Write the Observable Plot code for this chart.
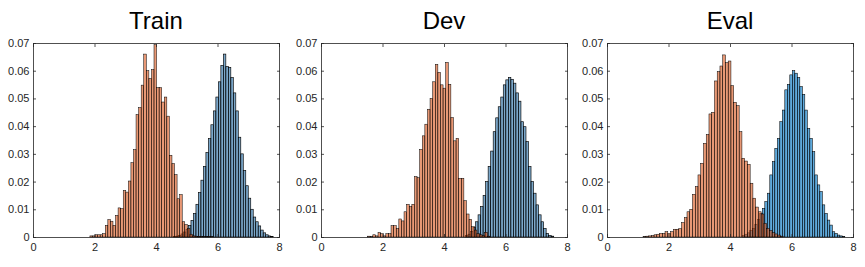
<!DOCTYPE html>
<html>
<head>
<meta charset="utf-8">
<script src="https://cdn.jsdelivr.net/npm/d3@7"></script>
<script src="https://cdn.jsdelivr.net/npm/@observablehq/plot@0.6"></script>
<style>
  html, body { margin: 0; padding: 0; background: #fff; }
  #wrap { position: relative; width: 865px; height: 267px; overflow: hidden; }
  .panel { position: absolute; top: 0; width: 291px; height: 267px; }
  .title { position: absolute; top: 6px; left: 33px; width: 246px; text-align: center;
           font-family: "Liberation Sans", Arial, sans-serif; font-size: 24px; color: #000; line-height: 30px; }
  .panel svg { position: absolute; top: 0; left: 0; }
</style>
</head>
<body>
<div id="wrap"></div>
<script>
const titles = ["Train", "Dev", "Eval"];
const xTicks = [0, 2, 4, 6, 8];
const yTicks = [0, 0.01, 0.02, 0.03, 0.04, 0.05, 0.06, 0.07];

// bin starts and widths (orange = class A, blue = class B)
const orangeStart = [1.85, 1.516, 1.173];
const orangeWidth = [0.0834, 0.0846, 0.0893];
const blueStart = [4.57, 4.698, 4.40];
const blueWidth = [0.081, 0.082, 0.0813];

const trainOrange = [0.0004,0.0004,0.0008,0.0008,0.0008,0.0012,0.0042,0.0063,0.0057,0.0042,0.0078,0.0105,0.0102,0.0168,0.0162,0.0202,0.0268,0.0315,0.0442,0.0467,0.0548,0.0660,0.0600,0.0572,0.0604,0.0694,0.0539,0.0539,0.0487,0.0505,0.0436,0.0295,0.0265,0.0225,0.0138,0.0153,0.0055,0.0045,0.0030,0.0010,0.0004,0.0003,0.0002,0.0002,0.0001,0.0001,0.0002,0.0001];
const trainBlue = [0.0002,0.0003,0.0006,0.0011,0.0018,0.0028,0.0042,0.0060,0.0085,0.0118,0.0160,0.0205,0.0255,0.0305,0.0355,0.0405,0.0455,0.0505,0.0560,0.0619,0.0660,0.0615,0.0612,0.0575,0.0520,0.0455,0.0360,0.0300,0.0240,0.0185,0.0140,0.0100,0.0072,0.0055,0.0040,0.0025,0.0015,0.0008,0.0004,0.0002];

const devOrange = [0.0003,0.0001,0.0008,0.0004,0.0016,0.0012,0.0004,0.0012,0.0012,0.0041,0.0041,0.0031,0.0065,0.0058,0.0091,0.0118,0.0110,0.0118,0.0218,0.0214,0.0316,0.0365,0.0407,0.0461,0.0500,0.0560,0.0623,0.0594,0.0549,0.0537,0.0630,0.0551,0.0431,0.0347,0.0356,0.0212,0.0212,0.0131,0.0083,0.0064,0.0037,0.0025,0.0012,0.0008,0.0005,0.0017,0.0003];
const devBlue = [0.0005,0.0010,0.0020,0.0035,0.0055,0.0080,0.0110,0.0150,0.0200,0.0255,0.0310,0.0380,0.0430,0.0470,0.0505,0.0549,0.0567,0.0576,0.0569,0.0555,0.0520,0.0490,0.0416,0.0398,0.0344,0.0254,0.0200,0.0158,0.0116,0.0080,0.0055,0.0031,0.0013,0.0006,0.0003];

const evalOrange = [0.0002,0.0003,0.0004,0.0005,0.0008,0.0010,0.0013,0.0013,0.0019,0.0013,0.0019,0.0028,0.0028,0.0030,0.0052,0.0070,0.0091,0.0100,0.0154,0.0182,0.0224,0.0266,0.0338,0.0370,0.0444,0.0450,0.0563,0.0597,0.0617,0.0657,0.0629,0.0635,0.0546,0.0486,0.0474,0.0380,0.0284,0.0274,0.0262,0.0194,0.0140,0.0108,0.0091,0.0083,0.0049,0.0031,0.0023,0.0016,0.0011,0.0007,0.0003];
const evalBlue = [0.0005,0.0010,0.0015,0.0023,0.0031,0.0046,0.0064,0.0085,0.0103,0.0128,0.0158,0.0224,0.0272,0.0320,0.0356,0.0416,0.0458,0.0531,0.0551,0.0585,0.0600,0.0591,0.0576,0.0543,0.0515,0.0458,0.0392,0.0356,0.0308,0.0224,0.0188,0.0164,0.0116,0.0085,0.0061,0.0043,0.0019,0.0013,0.0007,0.0004,0.0002];

const orangeSets = [trainOrange, devOrange, evalOrange];
const blueSets = [trainBlue, devBlue, evalBlue];
const blueFill = ["#3579ad", "#3579ad", "#0a7cc8"];
const blueEdge = [0.65, 0.65, 0.55];
const panelLeft = [0, 288, 574];

const bins = (vals, start, w) => vals.map((v, i) => ({x1: start + i * w, x2: start + (i + 1) * w, v}));

const wrap = document.getElementById("wrap");
titles.forEach((t, k) => {
  const panel = document.createElement("div");
  panel.className = "panel";
  panel.style.left = panelLeft[k] + "px";
  const chart = Plot.plot({
    width: 291, height: 267,
    marginLeft: 33, marginRight: 12, marginTop: 43, marginBottom: 30,
    style: {fontFamily: "'Liberation Sans', Arial, sans-serif", fontSize: "11px", color: "#262626", background: "transparent"},
    x: {domain: [0, 8], label: null},
    y: {domain: [0, 0.07], label: null},
    marks: [
      Plot.rectY(bins(blueSets[k], blueStart[k], blueWidth[k]), {x1: "x1", x2: "x2", y: "v", fill: blueFill[k], fillOpacity: 0.65, stroke: "#000", strokeWidth: blueEdge[k]}),
      Plot.rectY(bins(orangeSets[k], orangeStart[k], orangeWidth[k]), {x1: "x1", x2: "x2", y: "v", fill: "#D95319", fillOpacity: 0.6, stroke: "#000", strokeWidth: 0.5}),
      Plot.frame({stroke: "#262626", strokeWidth: 0.8}),
      Plot.axisX(xTicks, {anchor: "bottom", tickSize: 3, dy: -3, text: null, stroke: "#262626", strokeWidth: 0.8}),
      Plot.axisX(xTicks, {anchor: "top", tickSize: 3, dy: 3, text: null, stroke: "#262626", strokeWidth: 0.8}),
      Plot.axisY(yTicks, {anchor: "left", tickSize: 3, dx: 3, text: null, stroke: "#262626", strokeWidth: 0.8}),
      Plot.axisY(yTicks, {anchor: "right", tickSize: 3, dx: -3, text: null, stroke: "#262626", strokeWidth: 0.8}),
      Plot.axisX(xTicks, {anchor: "bottom", tickSize: 0, tickPadding: 6, fill: "#262626", fontSize: 11}),
      Plot.axisY(yTicks, {anchor: "left", tickSize: 0, tickPadding: 4, fill: "#262626", fontSize: 11,
        tickFormat: d => d === 0 ? "0" : d.toFixed(2)})
    ]
  });
  panel.appendChild(chart);
  const title = document.createElement("div");
  title.className = "title";
  title.textContent = t;
  panel.appendChild(title);
  wrap.appendChild(panel);
});
</script>
</body>
</html>
